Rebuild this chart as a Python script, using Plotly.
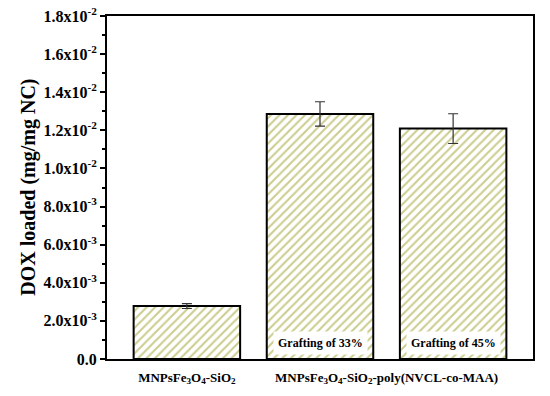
import plotly.graph_objects as go

x_pos = [0, 1, 2]
values = [0.00278, 0.01286, 0.01209]
errors = [0.00013, 0.00064, 0.00078]
inner_labels = ["", "Grafting of 33%", "Grafting of 45%"]
group_tick_pos = [0, 1.5]
group_tick_text = ["MNPsFe<sub>3</sub>O<sub>4</sub>-SiO<sub>2</sub>",
                   "MNPsFe<sub>3</sub>O<sub>4</sub>-SiO<sub>2</sub>-poly(NVCL-co-MAA)"]
y_ticks = [0, 0.002, 0.004, 0.006, 0.008, 0.010, 0.012, 0.014, 0.016, 0.018]
y_tick_text = ["0.0", "2.0x10<sup>-3</sup>", "4.0x10<sup>-3</sup>", "6.0x10<sup>-3</sup>",
               "8.0x10<sup>-3</sup>", "1.0x10<sup>-2</sup>", "1.2x10<sup>-2</sup>",
               "1.4x10<sup>-2</sup>", "1.6x10<sup>-2</sup>", "1.8x10<sup>-2</sup>"]

FONT = "Liberation Serif"
fig = go.Figure()
fig.add_trace(go.Bar(
    x=x_pos, y=values, width=0.8,
    marker=dict(color="white", line=dict(color="black", width=2),
                pattern=dict(shape="/", fgcolor="#9a9a22", bgcolor="white", size=6, solidity=0.35)),
    error_y=dict(type="data", array=errors, color="#333333", thickness=1.2, width=5),
    showlegend=False,
))
for xi, lab in zip(x_pos, inner_labels):
    if lab:
        fig.add_annotation(x=xi, y=0.00084, text="<b>" + lab + "</b>", showarrow=False,
                           bgcolor="white", font=dict(family=FONT, size=12, color="black"),
                           borderpad=4)
fig.add_annotation(x=-0.185, y=0.5, xref="paper", yref="paper", textangle=-90,
                   xanchor="center", yanchor="middle",
                   text="<b>DOX loaded (mg/mg NC)</b>", showarrow=False,
                   font=dict(family=FONT, size=20, color="black"))
fig.update_layout(
    width=550, height=396,
    margin=dict(l=107, r=17, t=16, b=37, autoexpand=False),
    plot_bgcolor="white", paper_bgcolor="white",
    font=dict(family=FONT, color="black"),
    bargap=0.2,
)
fig.update_xaxes(range=[-0.6, 2.6], tickvals=group_tick_pos,
                 ticktext=["<b>" + t + "</b>" for t in group_tick_text],
                 tickfont=dict(family=FONT, size=13), ticks="", ticklabelstandoff=5,
                 automargin=False,
                 showline=True, linecolor="black", linewidth=2, mirror=True,
                 showgrid=False, zeroline=False)
fig.update_yaxes(range=[0, 0.018], tickvals=y_ticks,
                 ticktext=["<b>" + t + "</b>" for t in y_tick_text],
                 tickfont=dict(family=FONT, size=16), ticks="outside", ticklen=5,
                 tickwidth=1.5, tickcolor="black", automargin=False,
                 ticklabeloverflow="allow",
                 minor=dict(ticks="outside", ticklen=3, tickcolor="black", dtick=0.001),
                 showline=True, linecolor="black", linewidth=2, mirror=True,
                 showgrid=False, zeroline=False)
fig.write_html("out.html", config={"displayModeBar": False},
               post_script="document.body.style.margin='0px';")
